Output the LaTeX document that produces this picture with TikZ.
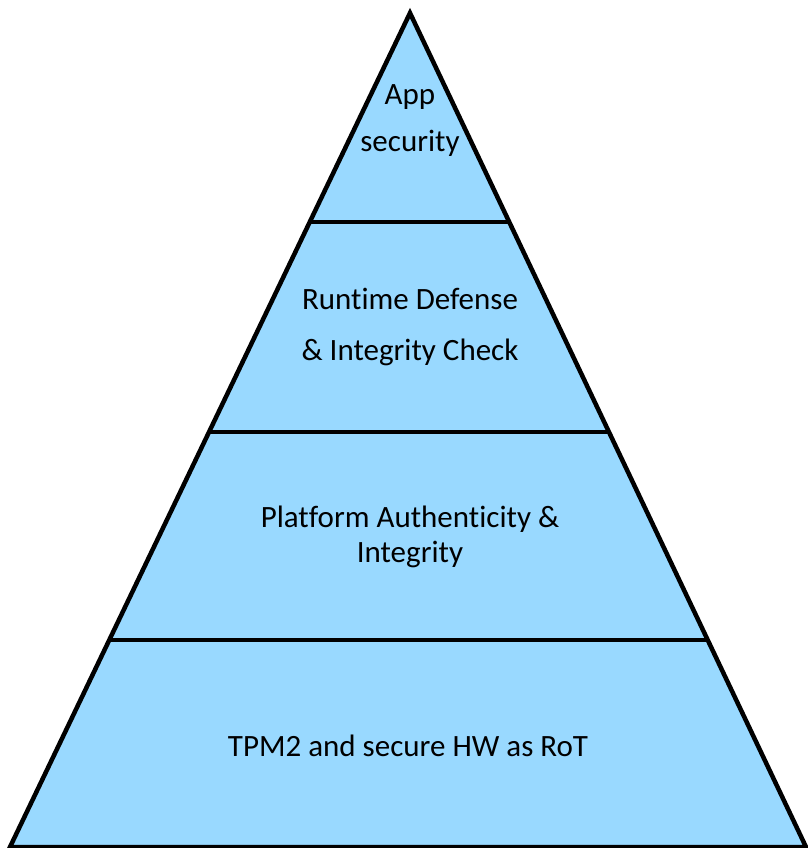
\documentclass[tikz,border=0pt]{standalone}
\usepackage{fontspec}
\setmainfont{Carlito}[Ligatures=NoCommon]
\usetikzlibrary{calc}

\definecolor{layerblue}{RGB}{153,217,255}

\begin{document}
\begin{tikzpicture}[x=1pt,y=-1pt,line width=4.5pt,
  label/.style={align=center,font=\fontsize{31}{35}\selectfont,text=black}]
\useasboundingbox (0,0) rectangle (807,848);
\coordinate (top) at (410,13);
\coordinate (bl) at (10,847);
\coordinate (br) at (806,847);

% pyramid body
\filldraw[fill=layerblue,line join=miter] (top) -- (br) -- (bl) -- cycle;

% layer borders
\draw ($(top)!0.2506!(bl)$) -- ($(top)!0.2506!(br)$);
\draw ($(top)!0.5024!(bl)$) -- ($(top)!0.5024!(br)$);
\draw ($(top)!0.7518!(bl)$) -- ($(top)!0.7518!(br)$);

\node[label] (app) at (410,121) {App\\[12pt]security};
\node[label] (runtime) at (410,327) {Runtime Defense\\[16pt]\& Integrity Check};
\node[label] (platform) at (410,537) {Platform Authenticity \&\\Integrity};
\node[label] (tpm) at (408,746) {TPM2 and secure HW as RoT};
\end{tikzpicture}
\end{document}
